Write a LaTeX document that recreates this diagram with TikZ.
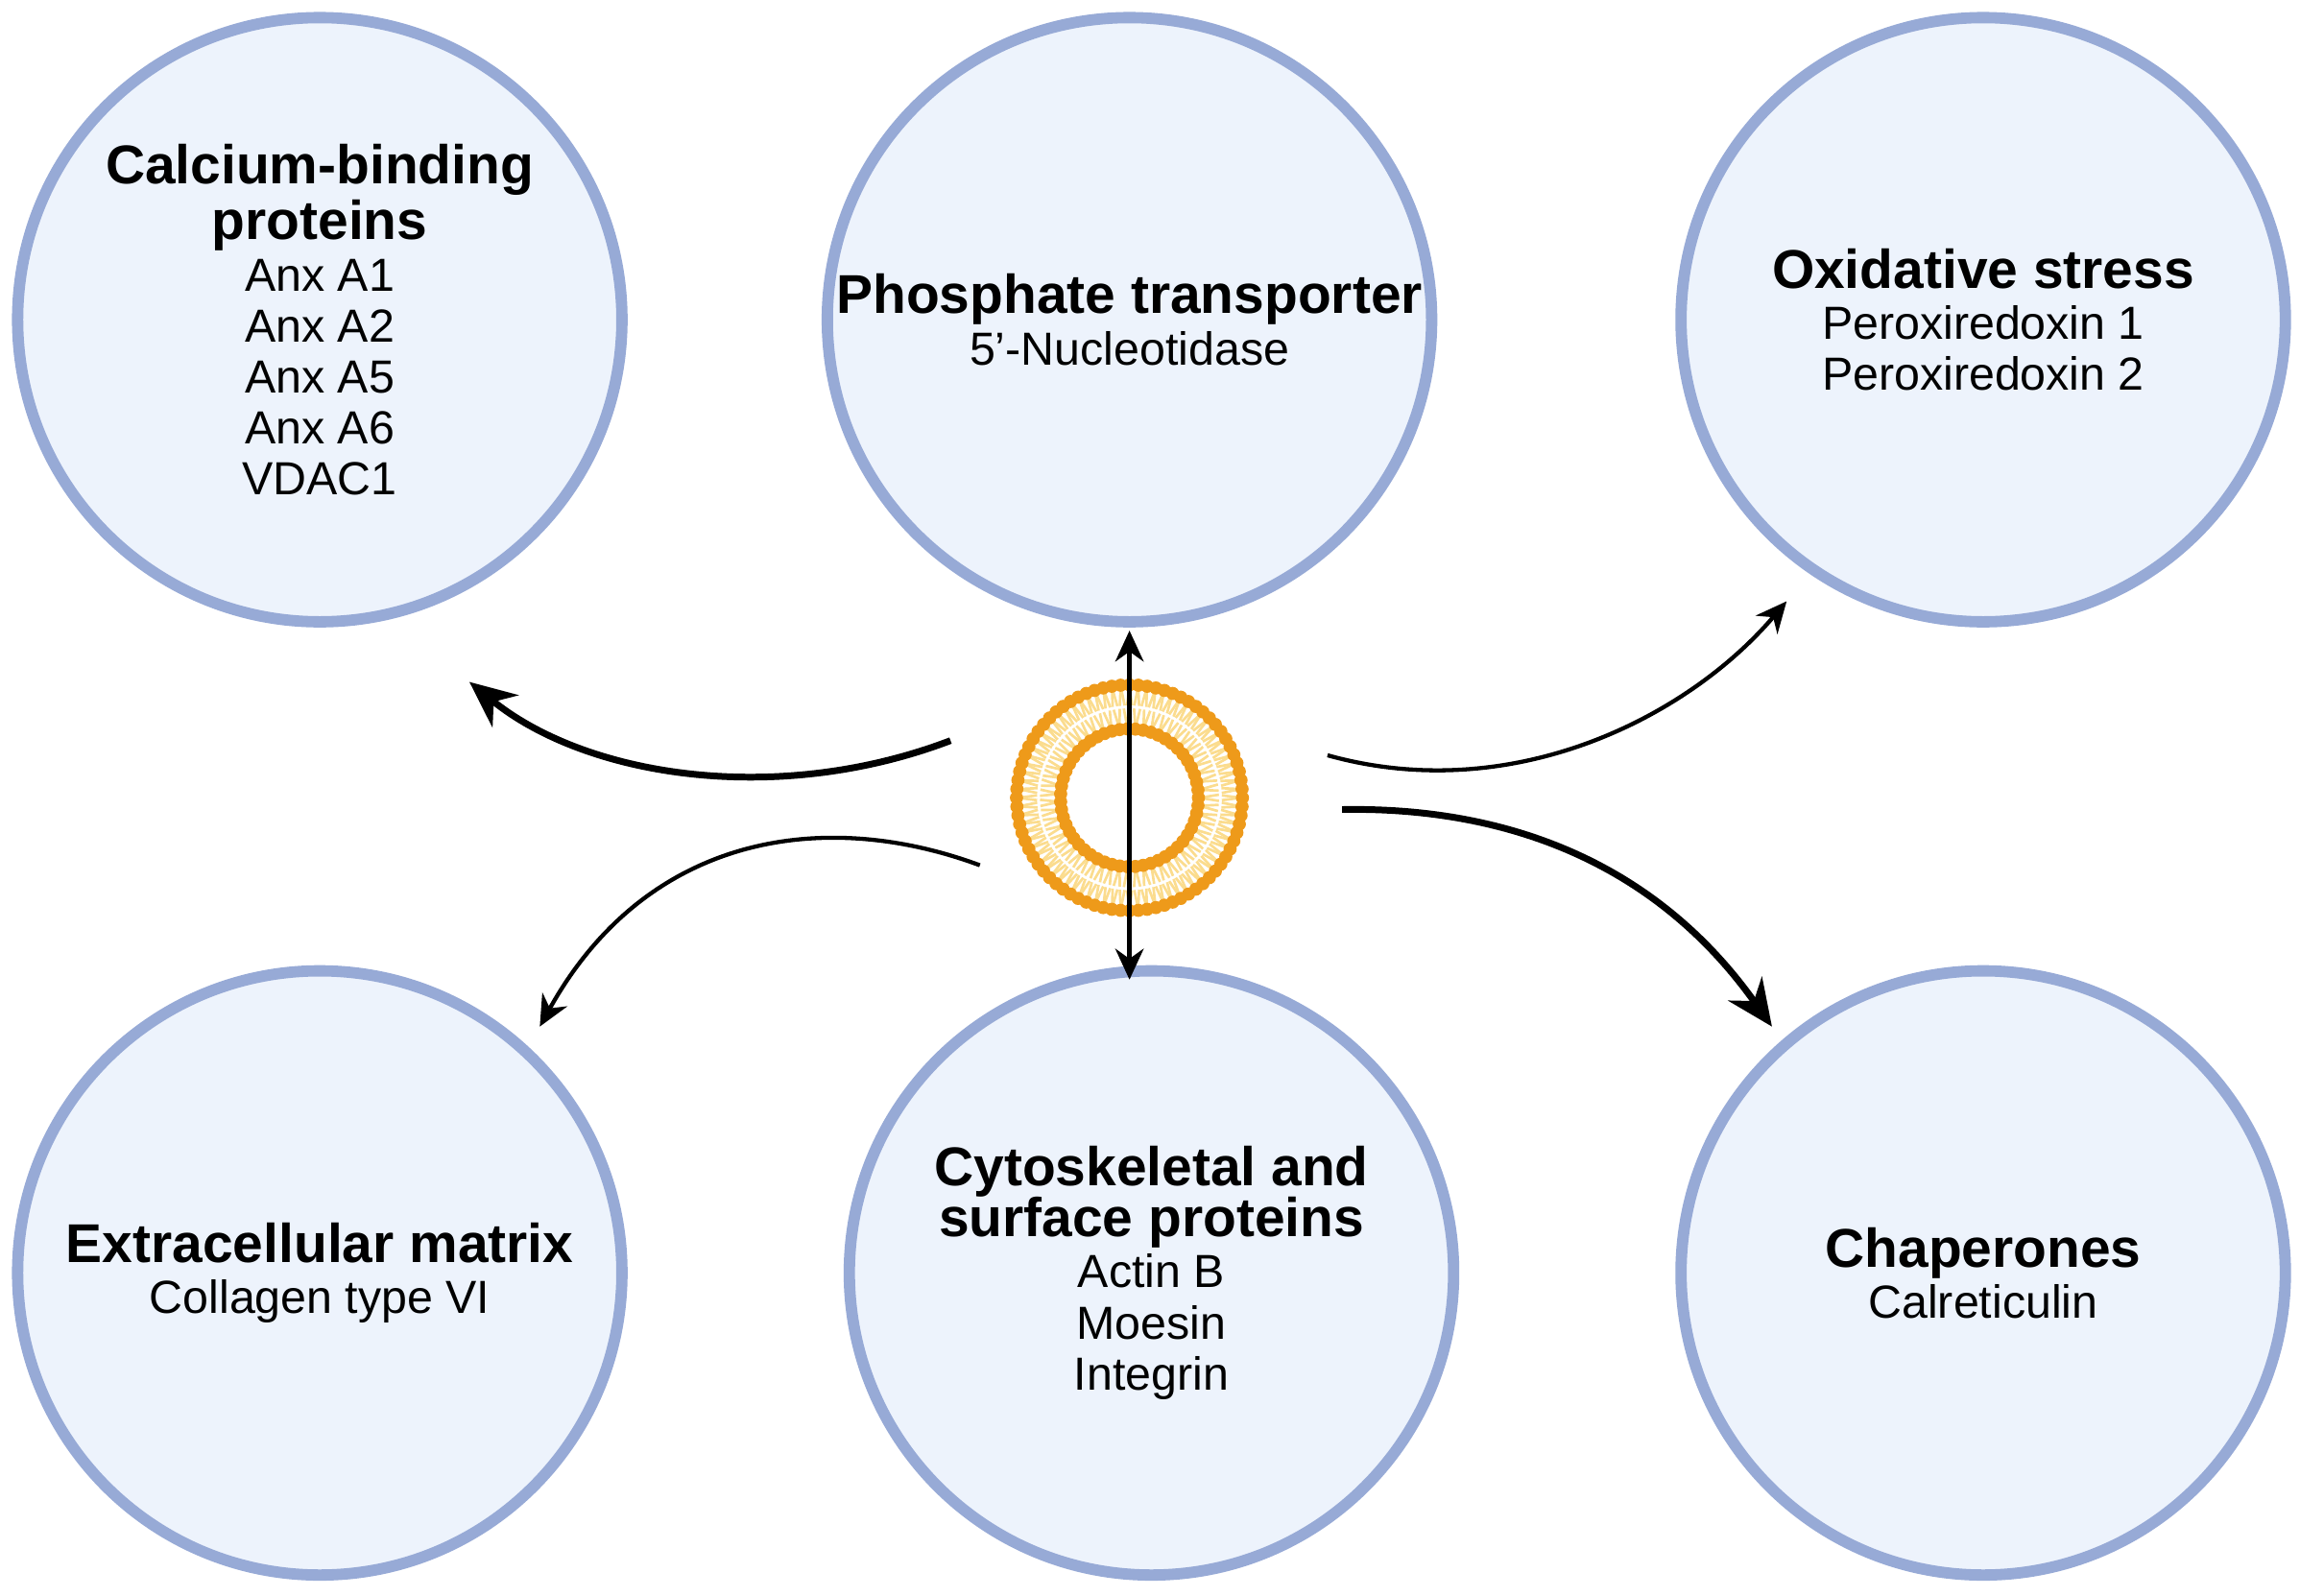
\documentclass[tikz,border=0pt]{standalone}
\usepackage{fontspec}
\setmainfont{Liberation Sans}
\usetikzlibrary{arrows.meta,calc}
\definecolor{cfill}{HTML}{EDF3FC}
\definecolor{cedge}{HTML}{97AAD6}
\definecolor{lipid}{HTML}{EE9A1A}
\definecolor{tail}{HTML}{FBDC8E}
\newcommand{\ttl}[1]{{\fontsize{10.6}{11.5}\selectfont\bfseries #1}}
\begin{document}
\begin{tikzpicture}[x=1cm,y=-1cm,
  bub/.style={circle,draw=cedge,line width=2.2pt,fill=cfill,minimum size=4.12cm,inner sep=0pt,align=center,font=\fontsize{9}{9.9}\selectfont},
  arr/.style={line width=0.8pt,-{Stealth[length=6pt,width=5.5pt]}},
  arrb/.style={line width=1.3pt,-{Stealth[length=9pt,width=8pt]}}]
\useasboundingbox (0,0) rectangle (15.68,10.88);
\node[bub] (ca) at (2.18,2.18) {\ttl{Calcium-binding}\\\ttl{proteins}\\Anx A1\\Anx A2\\Anx A5\\Anx A6\\VDAC1};
\node[bub] (ph) at (7.70,2.18) {\ttl{Phosphate transporter}\\5{\char"0027}-Nucleotidase};
\node[bub] (ox) at (13.52,2.18) {\ttl{Oxidative stress}\\Peroxiredoxin 1\\Peroxiredoxin 2};
\node[bub] (ec) at (2.18,8.68) {\ttl{Extracellular matrix}\\Collagen type VI};
\node[bub] (cy) at (7.85,8.68) {\ttl{Cytoskeletal and}\\\ttl{surface proteins}\\Actin B\\Moesin\\Integrin};
\node[bub] (ch) at (13.52,8.68) {\ttl{Chaperones}\\Calreticulin};
% vesicle
\coordinate (v) at (7.70,5.44);
\foreach \i in {0,...,79}{
  \draw[tail,line width=0.5pt] ($(v)+(\i*4.5:0.76)$) -- ($(v)+(\i*4.5+1.5:0.63)$) ;
  \draw[tail,line width=0.5pt] ($(v)+(\i*4.5:0.76)$) -- ($(v)+(\i*4.5-1.5:0.63)$) ;
}
\foreach \i in {0,...,54}{
  \draw[tail,line width=0.5pt] ($(v)+(\i*6.545:0.48)$) -- ($(v)+(\i*6.545+2:0.61)$) ;
  \draw[tail,line width=0.5pt] ($(v)+(\i*6.545:0.48)$) -- ($(v)+(\i*6.545-2:0.61)$) ;
}
\foreach \i in {0,...,79} \fill[lipid] ($(v)+(\i*4.5:0.77)$) circle (0.045);
\foreach \i in {0,...,54} \fill[lipid] ($(v)+(\i*6.545:0.47)$) circle (0.045);
\node[circle,minimum size=1.6cm,inner sep=0pt] (ves) at (v) {};
% arrows
\coordinate (s1) at (6.48,5.05); \coordinate (e1) at (3.20,4.65);
\coordinate (s2) at (6.68,5.90); \coordinate (e2) at (3.68,7.00);
\coordinate (s3) at (9.05,5.15); \coordinate (e3) at (12.18,4.10);
\coordinate (s4) at (9.15,5.52); \coordinate (e4) at (12.08,7.00);
\coordinate (e5) at (7.70,4.30); \coordinate (e6) at (7.70,6.68);
\draw[arrb] (s1) .. controls (5.3,5.5) and (4.0,5.3) .. (e1);
\draw[arr] (s2) .. controls (5.6,5.5) and (4.4,5.7) .. (e2);
\draw[arr] (s3) .. controls (10.3,5.5) and (11.5,4.9) .. (e3);
\draw[arrb] (s4) .. controls (10.3,5.5) and (11.3,5.9) .. (e4);
\draw[arr] (ves.south) -- (e5);
\draw[arr] (ves.north) -- (e6);
\end{tikzpicture}
\end{document}
